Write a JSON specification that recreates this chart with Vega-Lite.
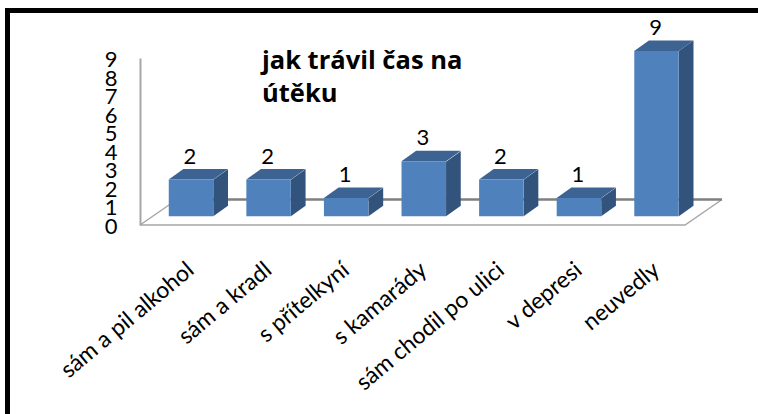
{"$schema":"https://vega.github.io/schema/vega-lite/v6.json","autosize":"none","padding":{"left":7.5,"top":10.5,"right":-9.5,"bottom":-6.5},"width":760,"height":410,"background":"white","view":{"stroke":"black","strokeWidth":5,"fill":"white"},"title":{"text":["jak trávil čas na","útěku"],"anchor":"start","frame":"group","orient":"top","offset":0,"dx":254.5,"dy":97,"font":"Open Sans","fontSize":25.5,"fontWeight":"bold","color":"#000000","lineHeight":33},"data":{"values":[{"aktivita":"sám  a pil alkohol","pocet":2},{"aktivita":"sám a kradl","pocet":2},{"aktivita":"s přítelkyní","pocet":1},{"aktivita":"s kamarády","pocet":3},{"aktivita":"sám  chodil po ulici","pocet":2},{"aktivita":"v depresi","pocet":1},{"aktivita":"neuvedly","pocet":9}]},"encoding":{"x":{"field":"aktivita","type":"nominal","sort":null,"scale":{"domain":["sám  a pil alkohol","sám a kradl","s přítelkyní","s kamarády","sám  chodil po ulici","v depresi","neuvedly"],"range":[144.7,687.8],"paddingInner":0.427,"paddingOuter":0.2135},"axis":{"title":null,"domain":false,"ticks":false,"labelAngle":-40,"labelAlign":"right","labelBaseline":"middle","labelFont":"Lato","labelFontSize":23,"labelColor":"#000000","labelPadding":0,"labelLimit":400,"offset":-154,"grid":false}}},"layer":[{"transform":[{"filter":"datum.pocet === 9"}],"mark":{"type":"point","filled":false,"stroke":"#a6a6a6","strokeWidth":1.5,"size":4,"opacity":1,"shape":"M-516.5,0 L28.5,0 L65.5,-25.5 M-516.5,0 L-479.5,-25.5"},"encoding":{"y":{"datum":0,"type":"quantitative","scale":{"domain":[0,9],"range":[214.5,47.5],"nice":false},"axis":{"title":null,"values":[0,1,2,3,4,5,6,7,8,9],"format":"d","orient":"left","offset":-132.5,"domain":true,"domainColor":"#a6a6a6","domainWidth":2,"ticks":false,"grid":false,"labelFont":"Lato","labelFontSize":22,"labelColor":"#000000","labelPadding":23,"labelOverlap":false,"labelBaseline":"middle","labelOffset":1.5}}}},{"transform":[{"filter":"datum.pocet === 9"}],"mark":{"type":"point","filled":false,"stroke":"#7f7f7f","strokeWidth":2.5,"size":4,"opacity":1,"shape":"M-479.5,-25.5 L65.5,-25.5"},"encoding":{"y":{"datum":0,"type":"quantitative","scale":{"domain":[0,9],"range":[214.5,47.5],"nice":false},"axis":null}}},{"mark":{"type":"point","filled":true,"fill":"#32537c","strokeWidth":0,"size":4,"opacity":1},"encoding":{"y":{"datum":0,"type":"quantitative","scale":{"domain":[0,9],"range":[205.8,40.5],"nice":false},"axis":null},"shape":{"field":"pocet","type":"nominal","legend":null,"scale":{"domain":[1,2,3,9],"range":["M22.3,0 L37,-10.5 L37,-28.5 L22.3,-18 Z","M22.3,0 L37,-10.5 L37,-47 L22.3,-36.5 Z","M22.3,0 L37,-10.5 L37,-65 L22.3,-54.5 Z","M22.3,0 L37,-10.5 L37,-175.8 L22.3,-165.3 Z"]}}}},{"mark":{"type":"point","filled":true,"fill":"#3c6392","strokeWidth":0,"size":4,"opacity":1,"shape":"M-22.3,0 L-7.6,-10.5 L37,-10.5 L22.3,0 Z"},"encoding":{"y":{"field":"pocet","type":"quantitative","scale":{"domain":[0,9],"range":[205.8,40.5],"nice":false},"axis":null}}},{"mark":{"type":"bar","fill":"#4f81bd"},"encoding":{"y":{"field":"pocet","type":"quantitative","scale":{"domain":[0,9],"range":[205.8,40.5],"nice":false},"axis":null}}},{"mark":{"type":"text","font":"Lato","fontSize":22,"color":"#000000","baseline":"middle","dy":-23,"dx":-1},"encoding":{"y":{"field":"pocet","type":"quantitative","scale":{"domain":[0,9],"range":[205.8,40.5],"nice":false},"axis":null},"text":{"field":"pocet","type":"quantitative"}}}],"resolve":{"scale":{"y":"independent"}}}
